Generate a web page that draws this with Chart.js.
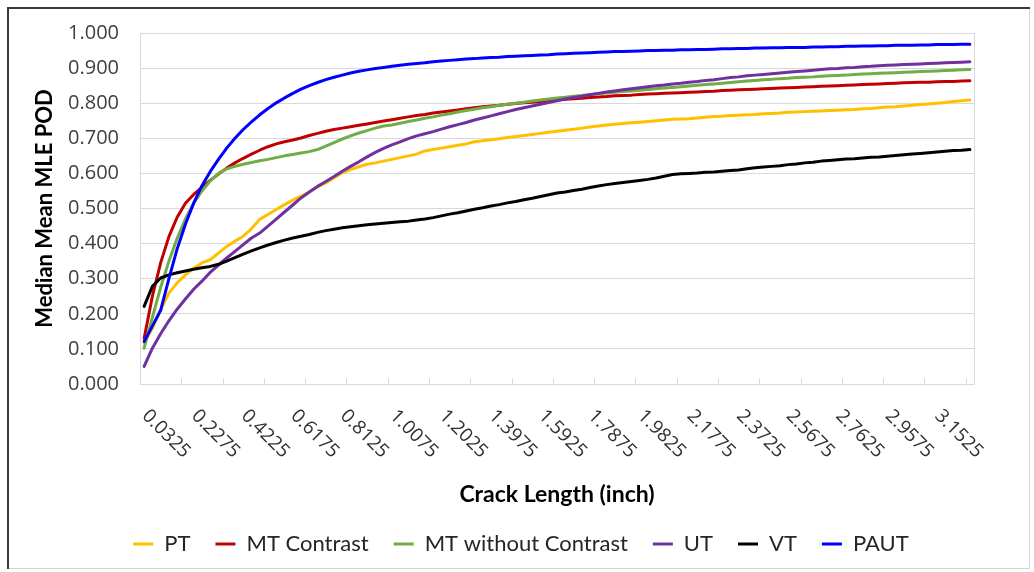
<!DOCTYPE html>
<html><head><meta charset="utf-8">
<script src="https://cdn.jsdelivr.net/npm/chart.js@4.4.1/dist/chart.umd.min.js"></script>
<style>html,body{margin:0;padding:0;background:#fff;}canvas{display:block;}</style>
</head><body>
<canvas id="c" width="1034" height="572"></canvas>
<script>
const categories = ["0.0325","0.0650","0.0975","0.1300","0.1625","0.1950","0.2275","0.2600","0.2925","0.3250",
"0.3575","0.3900","0.4225","0.4550","0.4875","0.5200","0.5525","0.5850","0.6175","0.6500",
"0.6825","0.7150","0.7475","0.7800","0.8125","0.8450","0.8775","0.9100","0.9425","0.9750",
"1.0075","1.0400","1.0725","1.1050","1.1375","1.1700","1.2025","1.2350","1.2675","1.3000",
"1.3325","1.3650","1.3975","1.4300","1.4625","1.4950","1.5275","1.5600","1.5925","1.6250",
"1.6575","1.6900","1.7225","1.7550","1.7875","1.8200","1.8525","1.8850","1.9175","1.9500",
"1.9825","2.0150","2.0475","2.0800","2.1125","2.1450","2.1775","2.2100","2.2425","2.2750",
"2.3075","2.3400","2.3725","2.4050","2.4375","2.4700","2.5025","2.5350","2.5675","2.6000",
"2.6325","2.6650","2.6975","2.7300","2.7625","2.7950","2.8275","2.8600","2.8925","2.9250",
"2.9575","2.9900","3.0225","3.0550","3.0875","3.1200","3.1525","3.1850","3.2175","3.2500",
"3.2825"];
const labelStep = 6;
const tickMarkStep = 5;

const PT = [
.116,.159,.211,.259,.288,.311,.330,.345,.354,.373,
.392,.407,.421,.442,.469,.483,.497,.511,.524,.535,
.547,.562,.573,.588,.602,.611,.619,.626,.630,.635,
.640,.645,.650,.655,.664,.668,.672,.676,.680,.684,
.690,.693,.696,.699,.702,.705,.708,.711,.714,.717,
.720,.723,.726,.729,.732,.735,.738,.740,.742,.744,
.746,.748,.750,.752,.754,.755,.756,.758,.760,.762,
.763,.765,.766,.767,.768,.770,.771,.772,.774,.775,
.776,.777,.778,.779,.780,.781,.782,.784,.785,.787,
.789,.790,.792,.794,.796,.798,.800,.802,.805,.807,
.809];
const MT_Contrast = [
.130,.250,.345,.420,.475,.515,.540,.560,.580,.598,
.615,.630,.643,.655,.666,.676,.684,.690,.695,.701,
.708,.714,.720,.725,.729,.733,.737,.741,.745,.749,
.753,.757,.761,.765,.768,.772,.775,.778,.781,.784,
.787,.790,.792,.794,.797,.799,.801,.803,.805,.807,
.809,.811,.813,.814,.816,.818,.819,.821,.822,.823,
.825,.826,.827,.828,.829,.830,.831,.832,.833,.834,
.836,.837,.838,.839,.840,.841,.842,.843,.844,.845,
.846,.847,.848,.849,.850,.851,.852,.853,.854,.855,
.856,.857,.858,.859,.860,.860,.861,.862,.862,.863,
.864];
const MT_without_Contrast = [
.102,.190,.275,.350,.415,.470,.515,.550,.578,.600,
.613,.620,.626,.631,.636,.640,.645,.650,.654,.658,
.662,.668,.678,.688,.698,.707,.715,.722,.729,.735,
.738,.743,.748,.752,.757,.761,.766,.770,.775,.779,
.783,.787,.790,.794,.797,.800,.803,.806,.809,.812,
.815,.817,.820,.822,.825,.827,.829,.831,.833,.835,
.837,.839,.841,.843,.845,.847,.849,.851,.853,.855,
.857,.859,.861,.863,.865,.867,.868,.870,.871,.873,
.874,.875,.877,.878,.879,.880,.882,.883,.884,.885,
.886,.887,.888,.889,.890,.891,.892,.893,.894,.895,
.896];
const UT = [
.050,.102,.143,.180,.213,.242,.270,.293,.318,.339,
.359,.378,.397,.416,.430,.450,.470,.490,.510,.530,
.547,.563,.577,.591,.606,.620,.633,.647,.660,.671,
.681,.690,.699,.707,.713,.719,.726,.733,.739,.745,
.752,.758,.764,.770,.776,.782,.787,.792,.797,.802,
.807,.812,.816,.820,.824,.828,.832,.835,.838,.841,
.844,.847,.850,.852,.855,.857,.860,.862,.865,.867,
.870,.873,.875,.878,.880,.882,.884,.886,.888,.890,
.892,.894,.896,.898,.899,.901,.902,.904,.905,.907,
.908,.909,.910,.911,.912,.913,.914,.915,.916,.917,
.918];
const VT = [
.221,.278,.302,.311,.317,.322,.327,.331,.335,.341,
.350,.360,.370,.379,.388,.396,.403,.410,.416,.421,
.426,.432,.437,.441,.445,.448,.451,.454,.456,.458,
.460,.462,.464,.467,.470,.474,.479,.484,.488,.493,
.498,.502,.507,.511,.516,.520,.525,.529,.534,.539,
.544,.547,.551,.555,.560,.564,.568,.571,.574,.577,
.580,.583,.587,.592,.597,.599,.600,.601,.603,.604,
.606,.608,.610,.613,.616,.618,.620,.622,.625,.627,
.630,.632,.635,.637,.639,.641,.642,.644,.646,.647,
.649,.651,.653,.655,.657,.659,.661,.663,.665,.666,
.668];
const PAUT = [
.121,.165,.210,.300,.385,.455,.515,.565,.605,.640,
.672,.700,.725,.747,.767,.785,.801,.815,.828,.840,
.850,.859,.867,.874,.880,.886,.891,.895,.899,.902,
.905,.908,.911,.913,.915,.918,.920,.922,.924,.926,
.927,.929,.930,.931,.933,.934,.935,.936,.937,.938,
.940,.941,.942,.943,.944,.945,.946,.947,.947,.948,
.949,.950,.950,.951,.951,.952,.952,.953,.953,.954,
.955,.955,.956,.956,.957,.957,.958,.958,.959,.959,
.959,.960,.960,.961,.961,.962,.962,.963,.963,.964,
.964,.965,.965,.965,.966,.966,.967,.967,.967,.968,
.968];

const seriesNames = ["PT","MT Contrast","MT without Contrast","UT","VT","PAUT"];
const seriesValues = [PT, MT_Contrast, MT_without_Contrast, UT, VT, PAUT];
const seriesColors = ["#FFC000","#C00000","#70AD47","#7030A0","#000000","#0000FF"];
const xTitle = "Crack Length (inch)";
const yTitle = "Median Mean MLE POD";

const decor = {
  id: 'decor',
  beforeDraw(chart) {
    const c = chart.ctx;
    c.save();
    c.fillStyle = '#fff';
    c.fillRect(0, 0, chart.width, chart.height);
    c.strokeStyle = '#d4d4d4'; c.lineWidth = 1;
    c.beginPath();
    c.moveTo(8, 568.5); c.lineTo(1030, 568.5);
    c.moveTo(1029.5, 8); c.lineTo(1029.5, 569);
    c.stroke();
    c.strokeStyle = '#3a3a3a'; c.lineWidth = 2;
    c.beginPath();
    c.moveTo(8, 7); c.lineTo(8, 569);
    c.moveTo(7, 8); c.lineTo(1030, 8);
    c.stroke();
    c.restore();
  },
  afterLayout(chart) {
    const lg = chart.legend;
    if (lg) { lg.left += 24; lg.right += 24; }
  },
  beforeDatasetsDraw(chart) {
    const xs = chart.scales.x, c = chart.ctx;
    c.save();
    c.strokeStyle = '#d9d9d9'; c.lineWidth = 1;
    c.beginPath();
    for (let i = tickMarkStep; i < categories.length; i += tickMarkStep) {
      const x = Math.round((xs.getPixelForTick(i - 1) + xs.getPixelForTick(i)) / 2) + 0.5;
      c.moveTo(x, xs.top); c.lineTo(x, xs.top - 6);
    }
    c.stroke();
    c.restore();
  },
  afterDraw(chart) {
    const xs = chart.scales.x, c = chart.ctx;
    c.save();
    c.font = '19px "Open Sans"';
    c.fillStyle = '#303030';
    c.textAlign = 'left';
    c.textBaseline = 'middle';
    categories.forEach((lab, i) => {
      if (i % labelStep !== 0) return;
      const x = xs.getPixelForTick(i);
      c.save();
      c.translate(x + 1, xs.top + 29);
      c.rotate(Math.PI / 4);
      c.fillText(lab, 0, 0);
      c.restore();
    });
    c.restore();
  }
};

Chart.defaults.font.family = '"Open Sans", sans-serif';

new Chart(document.getElementById('c'), {
  type: 'line',
  data: {
    labels: categories,
    datasets: seriesNames.map((n, k) => ({
      label: n,
      data: seriesValues[k],
      borderColor: seriesColors[k],
      backgroundColor: seriesColors[k],
      borderWidth: 3,
      pointRadius: 0,
      pointHoverRadius: 0,
      tension: 0,
      fill: false,
      borderJoinStyle: 'round',
      borderCapStyle: 'round',
      order: seriesNames.length - k
    }))
  },
  options: {
    responsive: false,
    animation: false,
    events: [],
    layout: { padding: { left: 20, right: 60, top: 33, bottom: 7 } },
    plugins: {
      tooltip: { enabled: false },
      legend: {
        position: 'bottom',
        labels: {
          usePointStyle: true,
          pointStyle: 'line',
          pointStyleWidth: 20,
          padding: 25,
          color: '#262626',
          font: { family: 'Lato', size: 22 },
          sort: (a, b) => a.datasetIndex - b.datasetIndex
        }
      }
    },
    scales: {
      x: {
        type: 'category',
        offset: true,
        grid: {
          offset: true,
          drawTicks: false,
          color: (c) => (c.index === 0 || c.index === undefined) ? '#d9d9d9' : 'rgba(0,0,0,0)'
        },
        border: { color: '#d9d9d9' },
        ticks: { display: false, autoSkip: false },
        title: {
          display: true, text: xTitle, color: '#000',
          font: { family: 'Lato', size: 23, weight: 'bold' },
          padding: { top: 0, bottom: 0 }
        },
        afterFit: (s) => { s.height = 124; }
      },
      y: {
        min: 0, max: 1,
        ticks: {
          stepSize: 0.1, padding: 21, color: '#404040',
          font: { family: '"Open Sans"', size: 20 },
          callback: (v) => Number(v).toFixed(3)
        },
        grid: { color: '#d9d9d9', drawTicks: false },
        border: { color: '#d9d9d9' },
        title: {
          display: true, text: yTitle, color: '#000',
          font: { family: 'Lato', size: 22, weight: 'bold' },
          padding: { top: 12, bottom: 0 }
        },
        afterFit: (s) => { s.width = 120; }
      }
    }
  },
  plugins: [decor]
});
</script>
</body></html>
